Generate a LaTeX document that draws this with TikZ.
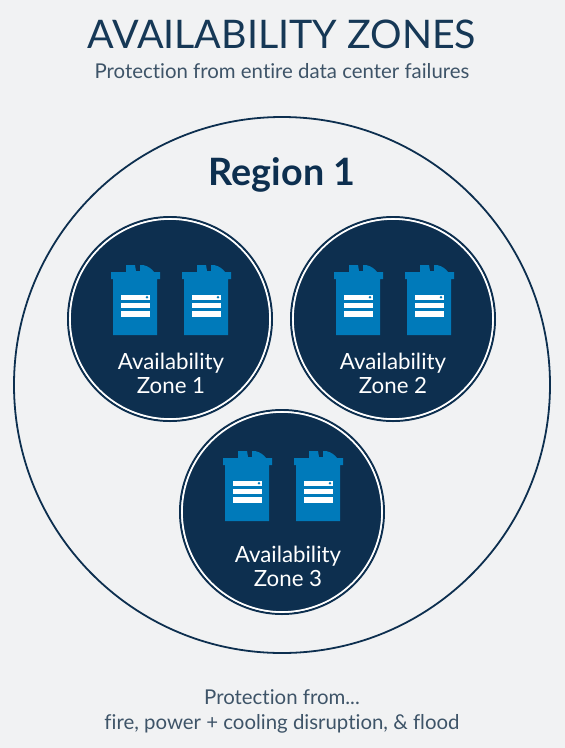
\documentclass[tikz,border=0pt]{standalone}
\usepackage{fontspec}
\usepackage{xcolor}
\setmainfont{Lato}[Ligatures=NoCommon]
\definecolor{zonenavy}{RGB}{13,47,79}
\definecolor{iconblue}{RGB}{0,122,186}
\definecolor{pagegrey}{RGB}{241,242,243}
\definecolor{titlenavy}{RGB}{22,56,86}
\definecolor{capgrey}{RGB}{62,84,104}
\tikzset{
  pics/serverbin/.style={code={
    \fill[iconblue] (-22,28) -- (-22,-28) -- (-24,-28) -- (-24,-35) -- (-9,-35) -- (-9,-42) -- (0,-42)
      -- (1,-36) -- (5,-36) -- (5,-42) -- (8,-42) .. controls (13,-41) and (17,-38) .. (19,-35) -- (25,-35) -- (25,-28) -- (22,-28) -- (22,28) -- cycle;
    \fill[white] (-14,-12.5) rectangle (15,-7);
    \fill[white] (-14,-4.5) rectangle (15,1);
    \fill[white] (-14,3.5) rectangle (15,9.5);
    \fill[iconblue] (12,-9.7) circle (1.4);
  }}
}
\begin{document}
\begin{tikzpicture}[x=1pt,y=-1pt,
    zone/.style={circle,fill=zonenavy,draw=white,line width=1.6pt,minimum size=200pt,inner sep=0pt},
    zonering/.style={circle,draw=zonenavy,line width=2pt,minimum size=204pt,inner sep=0pt},
    region/.style={circle,draw=zonenavy,line width=1.8pt,minimum size=536pt,inner sep=0pt},
    ziplabel/.style={text=white,font=\fontsize{22.3}{24}\selectfont,align=center},
    caption/.style={text=capgrey,font=\fontsize{20.4}{25}\selectfont,align=center}
  ]
    \useasboundingbox[fill=pagegrey] (0,0) rectangle (565,748);

    \node[text=titlenavy,font=\fontsize{39.4}{40}\selectfont] (title) at (282,34) {AVAILABILITY ZONES};
    \node[caption] (subtitle) at (282,71) {Protection from entire data center failures};

    \node[region] (region1) at (282,385) {};
    \node[text=zonenavy,font=\fontsize{37.7}{40}\selectfont\bfseries] (regionlabel) at (282,175) {Region 1};

    % zones
    \foreach \name/\cx/\cy/\iy/\lx/\num in {zone1/170/319/307/171/1,zone2/393/319/307/393/2,zone3/282/512/493/288/3}{
      \node[zonering] (\name ring) at (\cx,\cy) {};
      \node[zone] (\name) at (\cx,\cy) {};
      \pic at (\cx-35,\iy) {serverbin};
      \pic at (\cx+36,\iy) {serverbin};
      \node[ziplabel] (\name label) at (\lx,\cy+54) {Availability\\Zone \num};
    }

    \node[caption] (footer) at (282,711) {Protection from...\\fire, power + cooling disruption, \& flood};
  \end{tikzpicture}
\end{document}
